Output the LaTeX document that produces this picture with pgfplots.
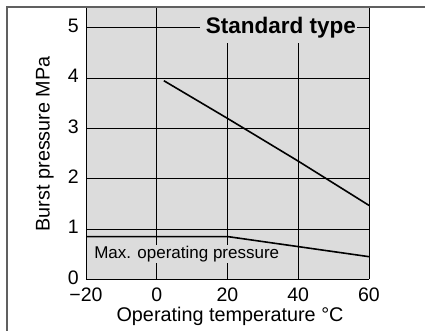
\documentclass[border=0pt]{standalone}
\usepackage{pgfplots}
\pgfplotsset{compat=1.18}
\usepackage{fontspec}
\setmainfont{Liberation Sans}
\definecolor{panel}{HTML}{DCDCDC}
\definecolor{framegray}{HTML}{606060}

\begin{document}
\begin{tikzpicture}
\path[use as bounding box] (0pt,0pt) rectangle (425pt,331pt);
\draw[framegray, line width=1.6pt] (7pt,0pt) -- (7pt,324pt) -- (425pt,324pt);
\begin{axis}[
  at={(86pt,51.7pt)}, anchor=south west,
  scale only axis, width=283pt, height=271pt,
  xmin=-20, xmax=60, ymin=0, ymax=5.39,
  xtick={-20,0,20,40,60}, xticklabels={−20,0,20,40,60},
  ytick={0,1,2,3,4,5},
  axis background/.style={fill=panel},
  axis line style={draw=none},
  grid=major, grid style={black, line width=0.9pt},
  major tick length=0pt,
  tick label style={font=\fontsize{19.5}{19.5}\selectfont, inner sep=0pt},
  yticklabel style={anchor=east, xshift=-7pt, yshift=2pt},
  xticklabel style={anchor=north, yshift=-8pt},
  /pgf/number format/assume math mode=true,
  xlabel={Operating temperature °C},
  ylabel={Burst pressure MPa},
  label style={font=\fontsize{19.8}{19.8}\selectfont},
  xlabel style={at={(axis description cs:0.509,-0.137)}, anchor=center},
  ylabel style={at={(axis description cs:-0.145,0.5)}, anchor=center},
]
\addplot[black, line width=1.6pt] coordinates {(2,3.95) (20,3.2) (40,2.35) (60,1.47)};
\addplot[black, line width=1.6pt] coordinates {(-20,0.85) (20,0.85) (40,0.65) (60,0.45)};
\fill[panel] (axis cs:12.2,4.70) rectangle (axis cs:56.6,5.39);
\node[font=\bfseries\fontsize{22.5}{22.5}\selectfont, inner sep=0pt] at (axis cs:35.1,5.0) {Standard type};
\node[fill=panel, inner sep=1pt, anchor=west, font=\fontsize{17}{17}\selectfont] at (axis cs:-18.0,0.5) {Max. operating pressure};
\end{axis}
\end{tikzpicture}
\end{document}
